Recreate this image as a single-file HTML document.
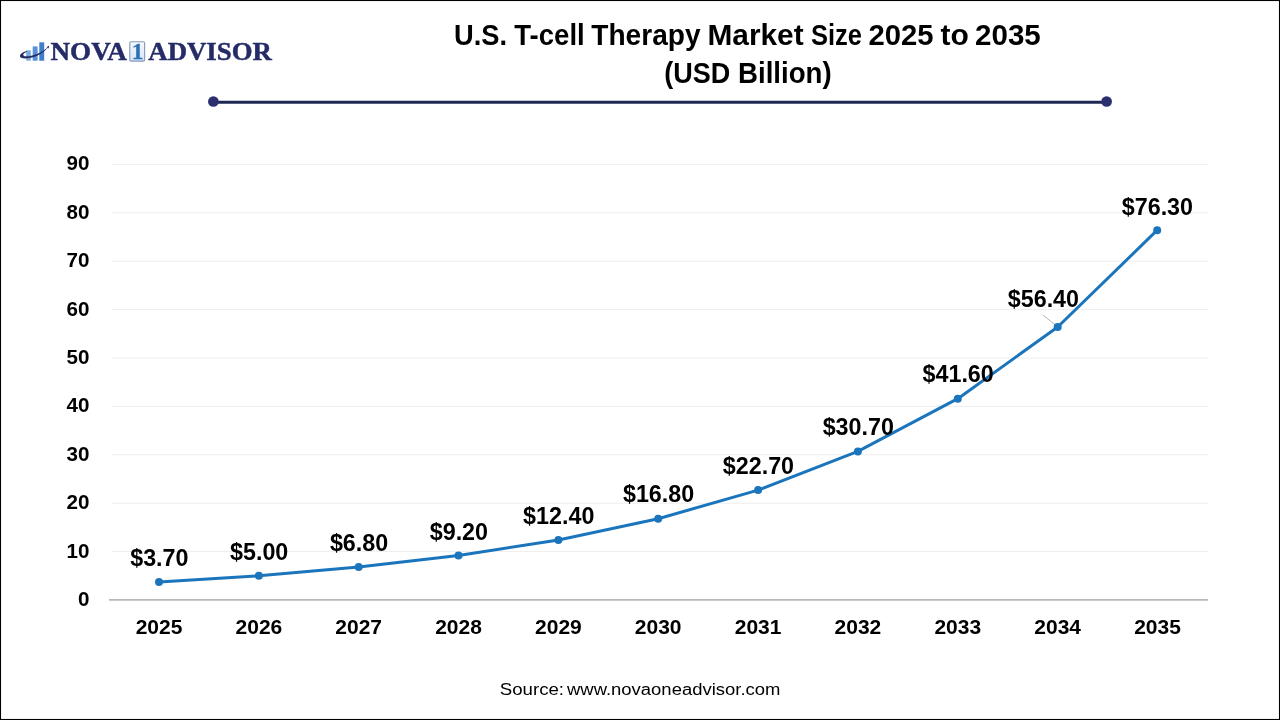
<!DOCTYPE html>
<html lang="en"><head><meta charset="utf-8"><title>U.S. T-cell Therapy Market Size 2025 to 2035</title>
<style>
html,body{margin:0;padding:0;background:#fff;}
body{width:1280px;height:720px;overflow:hidden;position:relative;font-family:"Liberation Sans",sans-serif;}
svg{position:absolute;left:0;top:0;display:block}
text{font-family:"Liberation Sans",sans-serif;fill:#000}
.b text{font-weight:700}
.logo text{font-family:"Liberation Serif",serif;font-weight:700;fill:#242b66;stroke:#242b66;stroke-width:0.45px}
</style></head><body>
<svg width="1280" height="720" viewBox="0 0 1280 720">
<rect x="0.5" y="0.5" width="1279" height="719" fill="#fff" stroke="#000" stroke-width="1.1"/>
<!-- title -->
<g class="b" font-size="29.1">
<text x="454.06" y="45" textLength="53.05" lengthAdjust="spacingAndGlyphs">U.S.</text>
<text x="514.27" y="45" textLength="70.5" lengthAdjust="spacingAndGlyphs">T-cell</text>
<text x="591.27" y="45" textLength="109.35" lengthAdjust="spacingAndGlyphs">Therapy</text>
<text x="707.43" y="45" textLength="96.22" lengthAdjust="spacingAndGlyphs">Market</text>
<text x="810.93" y="45" textLength="50.99" lengthAdjust="spacingAndGlyphs">Size</text>
<text x="868.4" y="45" textLength="65.08" lengthAdjust="spacingAndGlyphs">2025</text>
<text x="940.6" y="45" textLength="28.3" lengthAdjust="spacingAndGlyphs">to</text>
<text x="975.04" y="45" textLength="65.74" lengthAdjust="spacingAndGlyphs">2035</text>
<text x="664.19" y="82.5" textLength="66.07" lengthAdjust="spacingAndGlyphs">(USD</text>
<text x="737.99" y="82.5" textLength="93.7" lengthAdjust="spacingAndGlyphs">Billion)</text>
</g>
<!-- rule -->
<line x1="213" x2="1106" y1="102.3" y2="102.3" stroke="#1e2752" stroke-width="2.9"/>
<circle cx="213.4" cy="101.5" r="5.35" fill="#2b2f70"/><circle cx="1106.6" cy="101.5" r="5.35" fill="#2b2f70"/>
<!-- logo -->
<g class="logo">
<rect x="26.2" y="50.3" width="4.6" height="10.4" fill="#78ade2"/>
<rect x="32.7" y="46.4" width="4.9" height="14.3" fill="#5a90d6"/>
<rect x="39.3" y="42.3" width="4.9" height="18.4" fill="#3f7fc7"/>
<path d="M26.8 51.1 C22.3 52.1 19.3 54.8 20.1 56.7 C21.4 59.5 30 58.7 37 55.7 C42 53.5 46 50.5 48.7 46.4 C46 49.2 42 51.9 36.8 54 C30.5 56.5 24.9 56.9 23.5 55.4 C22.6 54.3 24.2 52.8 26.8 52 Z" fill="#242b66"/>
<path d="M46.6 47.2 L49.2 45.6 L48.6 48.6 Z" fill="#242b66"/>
<text x="50.5" y="60" font-size="26" textLength="76.3" lengthAdjust="spacingAndGlyphs">NOVA</text>
<text x="148.3" y="60" font-size="26" textLength="123.6" lengthAdjust="spacingAndGlyphs">ADVISOR</text>
<defs><linearGradient id="bx" x1="0" y1="0" x2="0" y2="1"><stop offset="0" stop-color="#f6f9fd"/><stop offset="1" stop-color="#d3e5f8"/></linearGradient></defs>
<rect x="129.8" y="41.8" width="14.8" height="19.3" rx="1.3" fill="url(#bx)" stroke="#8399ba" stroke-width="1.1"/>
<text x="137.5" y="59.3" font-size="23.5" text-anchor="middle" style="fill:#2b70b3;stroke:#2b70b3;stroke-width:0.3px">1</text>
</g>
<!-- grid -->
<g stroke="#eeeeee" stroke-width="1">
<line x1="112" x2="1208" y1="551.6" y2="551.6"/>
<line x1="112" x2="1208" y1="503.2" y2="503.2"/>
<line x1="112" x2="1208" y1="454.8" y2="454.8"/>
<line x1="112" x2="1208" y1="406.4" y2="406.4"/>
<line x1="112" x2="1208" y1="358.0" y2="358.0"/>
<line x1="112" x2="1208" y1="309.6" y2="309.6"/>
<line x1="112" x2="1208" y1="261.2" y2="261.2"/>
<line x1="112" x2="1208" y1="212.8" y2="212.8"/>
<line x1="112" x2="1208" y1="164.4" y2="164.4"/>
</g>
<line x1="109" x2="1208" y1="599.9" y2="599.9" stroke="#b8b8b8" stroke-width="1.8"/>
<g class="b" font-size="20.6">
<text x="89.5" y="606.0" text-anchor="end">0</text>
<text x="89.5" y="557.6" text-anchor="end">10</text>
<text x="89.5" y="509.2" text-anchor="end">20</text>
<text x="89.5" y="460.8" text-anchor="end">30</text>
<text x="89.5" y="412.4" text-anchor="end">40</text>
<text x="89.5" y="364.0" text-anchor="end">50</text>
<text x="89.5" y="315.6" text-anchor="end">60</text>
<text x="89.5" y="267.2" text-anchor="end">70</text>
<text x="89.5" y="218.8" text-anchor="end">80</text>
<text x="89.5" y="170.4" text-anchor="end">90</text>
</g>
<g class="b" font-size="21">
<text x="159.0" y="634" text-anchor="middle">2025</text>
<text x="258.9" y="634" text-anchor="middle">2026</text>
<text x="358.7" y="634" text-anchor="middle">2027</text>
<text x="458.5" y="634" text-anchor="middle">2028</text>
<text x="558.4" y="634" text-anchor="middle">2029</text>
<text x="658.2" y="634" text-anchor="middle">2030</text>
<text x="758.1" y="634" text-anchor="middle">2031</text>
<text x="857.9" y="634" text-anchor="middle">2032</text>
<text x="957.8" y="634" text-anchor="middle">2033</text>
<text x="1057.7" y="634" text-anchor="middle">2034</text>
<text x="1157.5" y="634" text-anchor="middle">2035</text>
</g>
<line x1="1043.1" y1="315.2" x2="1056.5" y2="325.8" stroke="#a0a0a0" stroke-width="0.8"/>
<polyline points="159.0,582.1 258.9,575.8 358.7,567.1 458.5,555.5 558.4,540.0 658.2,518.7 758.1,490.1 857.9,451.4 957.8,398.7 1057.7,327.0 1157.2,230.2" fill="none" stroke="#1b75bc" stroke-width="3" stroke-linejoin="round" stroke-linecap="round"/>
<g fill="#1b75bc">
<circle cx="159.0" cy="582.1" r="4"/>
<circle cx="258.9" cy="575.8" r="4"/>
<circle cx="358.7" cy="567.1" r="4"/>
<circle cx="458.5" cy="555.5" r="4"/>
<circle cx="558.4" cy="540.0" r="4"/>
<circle cx="658.2" cy="518.7" r="4"/>
<circle cx="758.1" cy="490.1" r="4"/>
<circle cx="857.9" cy="451.4" r="4"/>
<circle cx="957.8" cy="398.7" r="4"/>
<circle cx="1057.7" cy="327.0" r="4"/>
<circle cx="1157.2" cy="230.2" r="4"/>
</g>
<g class="b" font-size="23.3">
<text x="159.35" y="565.79" text-anchor="middle">$3.70</text>
<text x="259.2" y="559.5" text-anchor="middle">$5.00</text>
<text x="359.05" y="550.79" text-anchor="middle">$6.80</text>
<text x="458.9" y="539.97" text-anchor="middle">$9.20</text>
<text x="558.75" y="523.68" text-anchor="middle">$12.40</text>
<text x="658.6" y="502.39" text-anchor="middle">$16.80</text>
<text x="758.45" y="473.83" text-anchor="middle">$22.70</text>
<text x="858.3" y="435.11" text-anchor="middle">$30.70</text>
<text x="958.15" y="382.36" text-anchor="middle">$41.60</text>
<text x="1043.4" y="306.9" text-anchor="middle">$56.40</text>
<text x="1157.4" y="214.9" text-anchor="middle">$76.30</text>
</g>
<g font-size="17.3">
<text x="499.82" y="694.6" textLength="64.23" lengthAdjust="spacingAndGlyphs">Source:</text>
<text x="566.97" y="694.6" textLength="213.42" lengthAdjust="spacingAndGlyphs">www.novaoneadvisor.com</text>
</g>
</svg>
</body></html>
